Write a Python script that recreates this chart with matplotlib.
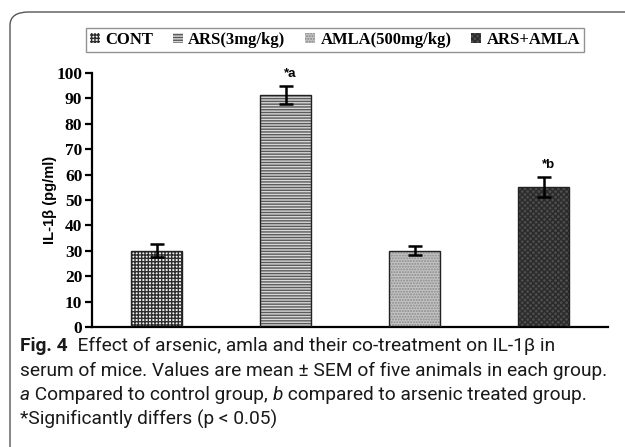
import matplotlib
matplotlib.use("Agg")
import matplotlib.pyplot as plt
from matplotlib.patches import FancyBboxPatch

# data
groups = ["CONT", "ARS(3mg/kg)", "AMLA(500mg/kg)", "ARS+AMLA"]
means = [30.0, 91.2, 30.0, 55.2]
sems = [2.5, 3.6, 1.8, 3.9]
marks = ["", "*a", "", "*b"]
y_ticks = list(range(0, 101, 10))

faces = ["#f0f0f0", "#d8d8d8", "#c4c4c4", "#4d4d4d"]
hatches = ["+++++", "------", "......", "xxxxxx"]
hatch_cols = ["#2e2e2e", "#5a5a5a", "#8a8a8a", "#2a2a2a"]

fig = plt.figure(figsize=(6.25, 4.47), dpi=100)

# rounded outer frame
frame = FancyBboxPatch((10 / 625, -0.2), 1.2, 1 - 12 / 447 + 0.2,
                       boxstyle="round,pad=0,rounding_size=0.03",
                       transform=fig.transFigure, fill=False,
                       edgecolor="#555555", linewidth=1.0)
fig.patches.append(frame)

ax = fig.add_axes([92 / 625, 1 - 327 / 447, (608 - 92) / 625, (327 - 73) / 447])
x = range(len(groups))

plt.rcParams["hatch.linewidth"] = 1.0
handles = []
for i in x:
    plt.rcParams["hatch.color"] = hatch_cols[i]
    b = ax.bar(i, means[i], width=0.4, color=faces[i], hatch=hatches[i],
               edgecolor=hatch_cols[i], linewidth=0, zorder=2)
    ax.bar(i, means[i], width=0.4, fill=False, edgecolor="#222222",
           linewidth=1.0, zorder=3)
    handles.append(b[0])

ax.errorbar(list(x), means, yerr=sems, fmt="none", ecolor="black",
            elinewidth=1.8, capsize=5, capthick=1.8, zorder=4)

for i in x:
    if marks[i]:
        ax.text(i + 0.04, means[i] + sems[i] + 2.5, marks[i], ha="center",
                va="bottom", fontsize=9.5, fontweight="bold",
                family="Liberation Sans")

ax.set_xlim(-0.5, 3.5)
ax.set_ylim(0, 100)
ax.set_yticks(y_ticks)
ax.set_yticklabels([str(t) for t in y_ticks], family="Liberation Serif",
                   fontweight="bold", fontsize=12.5)
ax.set_xticks([])
for s in ["top", "right"]:
    ax.spines[s].set_visible(False)
ax.spines["left"].set_linewidth(1.6)
ax.spines["bottom"].set_linewidth(1.6)
ax.tick_params(axis="y", direction="out", length=5, width=1.6, pad=2)
ax.set_ylabel("IL-1β (pg/ml)", family="Liberation Sans", fontweight="bold",
              fontsize=10.5)
ax.yaxis.set_label_coords(-0.068, 0.5)

leg = fig.legend(handles, groups, loc="center", ncol=4,
                 bbox_to_anchor=(335 / 625, 1 - 40 / 447),
                 prop={"family": "Liberation Serif", "weight": "bold", "size": 12},
                 frameon=True, fancybox=False, edgecolor="#777777",
                 handlelength=0.6, handleheight=0.6, handletextpad=0.3,
                 columnspacing=1.2, borderpad=0.25)
leg.get_frame().set_linewidth(1.0)

# caption, drawn as runs of text so bold / italic parts can mix
cap_lines = [
    [("Fig. 4", "bold", "normal"),
     ("  Effect of arsenic, amla and their co-treatment on IL-1β in", "normal", "normal")],
    [("serum of mice. Values are mean ± SEM of five animals in each group.", "normal", "normal")],
    [("a", "normal", "italic"), (" Compared to control group, ", "normal", "normal"),
     ("b", "normal", "italic"), (" compared to arsenic treated group.", "normal", "normal")],
    [("*Significantly differs (p < 0.05)", "normal", "normal")],
]
cap_y = [346, 371, 395, 419]

renderer = fig.canvas.get_renderer()
for runs, yy in zip(cap_lines, cap_y):
    xpx = 20
    for txt, wt, st in runs:
        t = fig.text(xpx / 625, 1 - yy / 447, txt, ha="left", va="center",
                     fontsize=13.8, fontweight=wt, fontstyle=st,
                     family=["Roboto", "DejaVu Sans"], color="#1a1a1a")
        bb = t.get_window_extent(renderer=renderer)
        xpx += bb.width

fig.savefig("out.png", dpi=100)
